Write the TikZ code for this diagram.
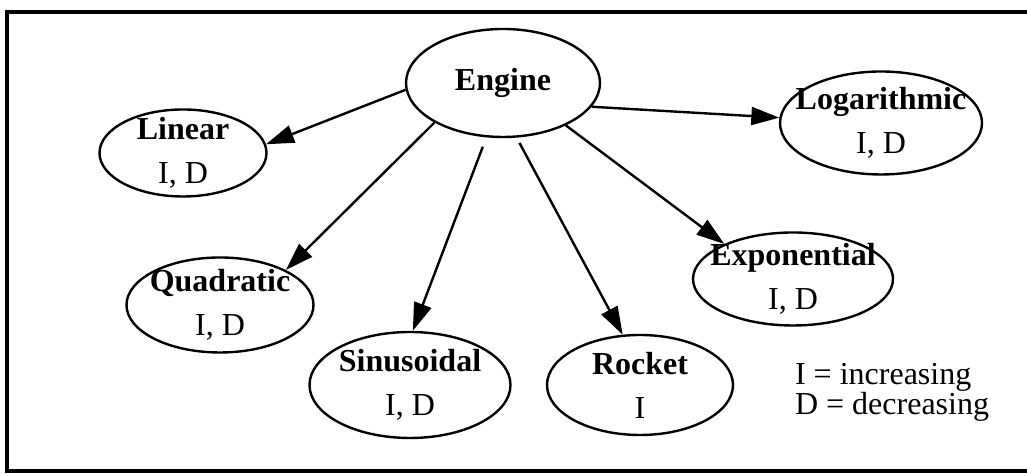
\documentclass[tikz,border=0pt]{standalone}
\usepackage{fontspec}
\setmainfont{Liberation Serif}
\usetikzlibrary{shapes.geometric, arrows.meta}

\begin{document}
\begin{tikzpicture}[x = 0.5pt, y = 0.5pt,
    every node/.style = {font = \fontsize{16}{22}\selectfont},
    kind/.style = {ellipse, draw, line width = 1.2pt, inner sep = -9pt, align = center},
    link/.style = {line width = 1.2pt, -{Triangle[length = 14pt, width = 9pt]}}]

    \useasboundingbox (0, 0) rectangle (1027, 474);
    \draw[line width = 1.6pt] (1040, 462) -- (7, 462) -- (7, 3) -- (1040, 3);

    \node[kind, minimum width = 97pt, minimum height = 54pt] (engine) at (503, 391) {\textbf{Engine}};
    \node[kind, minimum width = 83.5pt, minimum height = 43.5pt] (linear) at (183, 321) {\textbf{Linear}\\I, D};
    \node[kind, minimum width = 101pt, minimum height = 51.5pt] (logarithmic) at (881, 351) {\textbf{Logarithmic}\\I, D};
    \node[kind, minimum width = 93.5pt, minimum height = 47.5pt] (quadratic) at (220, 169) {\textbf{Quadratic}\\I, D};
    \node[kind, minimum width = 100pt, minimum height = 46.5pt] (exponential) at (793, 195) {\textbf{Exponential}\\I, D};
    \node[kind, minimum width = 100.5pt, minimum height = 53pt] (sinusoidal) at (410, 89) {\textbf{Sinusoidal}\\I, D};
    \node[kind, minimum width = 93pt, minimum height = 50pt] (rocket) at (640, 89) {\textbf{Rocket}\\I};

    \node[anchor = west, align = left, font = \fontsize{16}{15}\selectfont] (legend) at (788, 82) {I = increasing\\D = decreasing};

    \draw[link] (engine.184) -- (linear.6);
    \draw[link] (engine.345) -- (logarithmic.177);
    \draw[link] (engine.210) -- (quadratic.28);
    \draw[link, shorten <= 5pt] (engine.253) -- (sinusoidal.87);
    \draw[link, shorten <= 3pt] (engine.284) -- (rocket.109);
    \draw[link] (engine.326) -- (exponential.153);

\end{tikzpicture}
\end{document}
